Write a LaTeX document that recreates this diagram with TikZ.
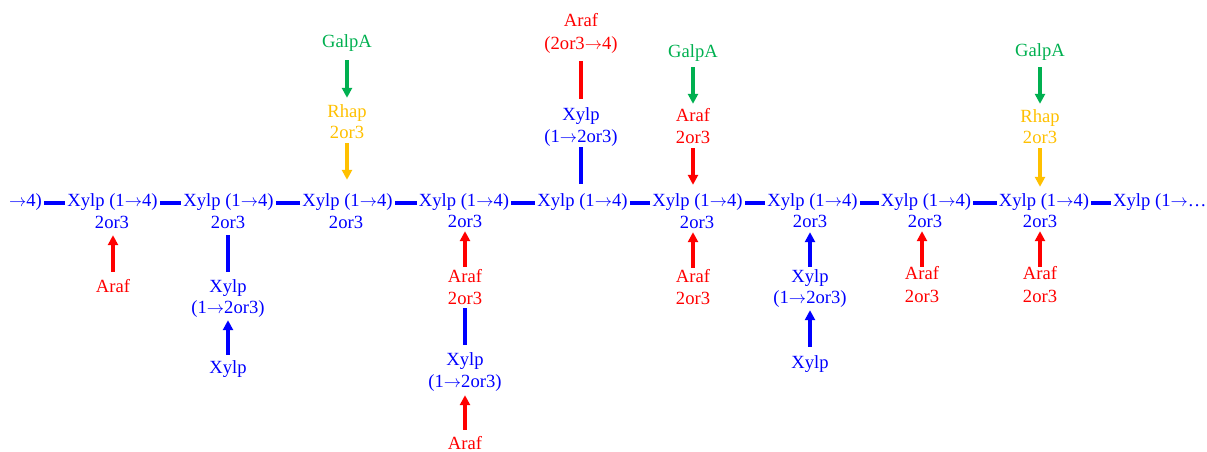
\documentclass[tikz,border=0pt]{standalone}
\usepackage{fontspec}
\setmainfont{Liberation Serif}
\usetikzlibrary{arrows.meta}
\definecolor{cblue}{RGB}{0,0,255}
\definecolor{cred}{RGB}{255,0,0}
\definecolor{cgreen}{RGB}{0,176,80}
\definecolor{corange}{RGB}{255,192,0}
\newcommand{\ar}{\(\rightarrow\)}
\begin{document}
\begin{tikzpicture}[x=1pt,y=-1pt,
  lbl/.style={font=\fontsize{18.6}{20}\selectfont, inner sep=0pt, text height=12pt, text depth=4pt, anchor=base},
  bl/.style={lbl,text=cblue}, rd/.style={lbl,text=cred},
  gr/.style={lbl,text=cgreen}, og/.style={lbl,text=corange},
  sh/.style 2 args={shorten <=#1pt, shorten >=#2pt},
  bond/.style={line width=4pt, draw=#1},
  arr/.style={line width=3.5pt, draw=#1, fill=#1, -{Triangle[width=10pt,length=10pt]}},
  link/.style={line width=3.8pt, draw=cblue, shorten <=2pt, shorten >=2pt}]
\useasboundingbox (0,0) rectangle (1207,452);
% main chain
\node[bl,anchor=base east] (m0) at (42,206) {\ar4)};
\node[bl] (m1) at (112.5,206) {Xylp (1\ar4)};
\node[bl] (m2) at (228.5,206) {Xylp (1\ar4)};
\node[bl] (m3) at (347.5,206) {Xylp (1\ar4)};
\node[bl] (m4) at (464,206) {Xylp (1\ar4)};
\node[bl] (m5) at (582.5,206) {Xylp (1\ar4)};
\node[bl] (m6) at (697.5,206) {Xylp (1\ar4)};
\node[bl] (m7) at (812.5,206) {Xylp (1\ar4)};
\node[bl] (m8) at (926,206) {Xylp (1\ar4)};
\node[bl] (m9) at (1044,206) {Xylp (1\ar4)};
\node[bl,anchor=base west] (m10) at (1113,206) {Xylp (1\ar…};
\foreach \a/\b in {m0/m1,m1/m2,m2/m3,m3/m4,m4/m5,m5/m6,m6/m7,m7/m8,m8/m9,m9/m10}
  \draw[link] ([yshift=-1pt]\a.east) -- ([yshift=-1pt]\b.west);
% 2or3 row
\node[bl] (s1) at (112,228) {2or3};
\node[bl] (s2) at (228,228) {2or3};
\node[bl] (s3) at (346,228) {2or3};
\node[bl] (s4) at (465,227) {2or3};
\node[bl] (s6) at (697,228) {2or3};
\node[bl] (s7) at (810,227) {2or3};
\node[bl] (s8) at (925,227) {2or3};
\node[bl] (s9) at (1040,227) {2or3};
% chain 1
\node[rd] (a1) at (113,292) {Araf};
\draw[arr=cred,sh={8}{3}] (a1.north) -- (a1.north |- s1.south);
% chain 2
\node[bl] (x2) at (228,292) {Xylp};
\node[bl] (x2b) at (228,313) {(1\ar2or3)};
\node[bl] (x2c) at (228,373) {Xylp};
\draw[bond=cblue,sh={3}{8}] (s2.south) -- (s2.south |- x2.north);
\draw[arr=cblue,sh={6}{3}] (x2c.north) -- (x2b.south);
% chain 3
\node[gr] (g3) at (347,48) {GalpA};
\node[og] (h3) at (347,117) {Rhap};
\node[og] (h3b) at (347,138) {2or3};
\draw[arr=cgreen,sh={8}{7}] (g3.south) -- (g3.south |- h3.north);
\draw[arr=corange,sh={1}{14}] (h3b.south) -- (h3b.south |- m3.north);
% chain 4
\node[rd] (r4) at (465,282) {Araf};
\node[rd] (r4b) at (465,304) {2or3};
\node[bl] (x4) at (465,365) {Xylp};
\node[bl] (x4b) at (465,387) {(1\ar2or3)};
\node[rd] (a4) at (465,449) {Araf};
\draw[arr=cred,sh={3}{0}] (r4.north) -- (s4.south);
\draw[bond=cblue,sh={0}{8}] (r4b.south) -- (x4.north);
\draw[arr=cred,sh={7}{4}] (a4.north) -- (x4b.south);
% chain 5
\node[rd] (t5a) at (581,27) {Araf};
\node[rd] (t5b) at (581,50) {(2or3\ar4)};
\node[bl] (t5c) at (581,120) {Xylp};
\node[bl] (t5d) at (581,142) {(1\ar2or3)};
\draw[bond=cred,sh={7}{9}] (t5b.south) -- (t5c.north);
\draw[bond=cblue,sh={1}{10}] (t5d.south) -- (t5d.south |- m5.north);
% chain 6
\node[gr] (g6) at (693,58) {GalpA};
\node[rd] (r6) at (693,121) {Araf};
\node[rd] (r6b) at (693,143) {2or3};
\draw[arr=cgreen,sh={5}{5}] (g6.south) -- (r6.north);
\draw[arr=cred,sh={1}{9}] (r6b.south) -- (r6b.south |- m6.north);
\node[rd] (b6) at (693,282) {Araf};
\node[rd] (b6b) at (693,304) {2or3};
\draw[arr=cred,sh={2}{0}] (b6.north) -- (b6.north |- s6.south);
% chain 7
\node[bl] (x7) at (810,282) {Xylp};
\node[bl] (x7b) at (810,303) {(1\ar2or3)};
\node[bl] (x7c) at (810,368) {Xylp};
\draw[arr=cblue,sh={3}{1}] (x7.north) -- (s7.south);
\draw[arr=cblue,sh={9}{3}] (x7c.north) -- (x7b.south);
% chain 8
\node[rd] (b8) at (922,279) {Araf};
\node[rd] (b8b) at (922,302) {2or3};
\draw[arr=cred,sh={0}{0}] (b8.north) -- (b8.north |- s8.south);
% chain 9
\node[gr] (g9) at (1040,57) {GalpA};
\node[og] (h9) at (1040,122) {Rhap};
\node[og] (h9b) at (1040,143) {2or3};
\draw[arr=cgreen,sh={6}{6}] (g9.south) -- (h9.north);
\draw[arr=corange,sh={1}{7}] (h9b.south) -- (h9b.south |- m9.north);
\node[rd] (b9) at (1040,279) {Araf};
\node[rd] (b9b) at (1040,302) {2or3};
\draw[arr=cred,sh={0}{0}] (b9.north) -- (s9.south);
\end{tikzpicture}
\end{document}
